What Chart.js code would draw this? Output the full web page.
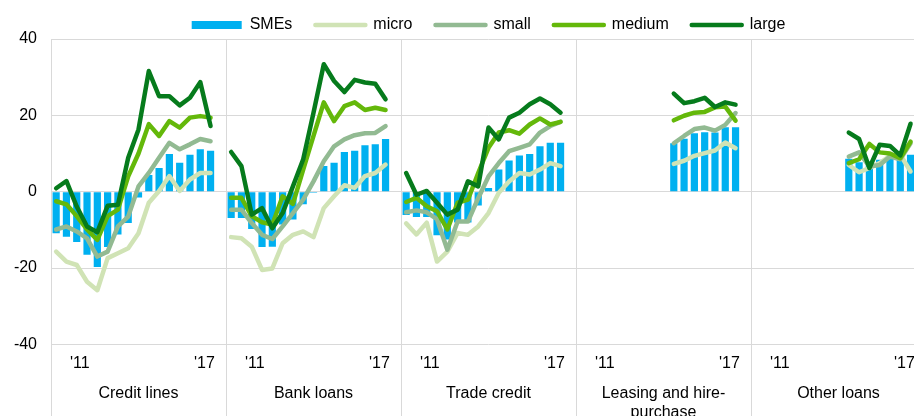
<!DOCTYPE html>
<html>
<head>
<meta charset="utf-8">
<script src="https://cdn.jsdelivr.net/npm/chart.js@4/dist/chart.umd.min.js"></script>
<style>
  html, body { margin: 0; padding: 0; background: #fff; overflow: hidden; }
  #wrap { width: 930px; height: 422px; position: relative; }
</style>
</head>
<body>
<div id="wrap"><canvas id="chart"></canvas></div>
<script>
// panel (loan type) labels and the two year labels shown in every panel
var panels = ['Credit lines', 'Bank loans', 'Trade credit', ['Leasing and hire-', 'purchase'], 'Other loans'];
var tickLabels = ["'11", "'17"];
var tickSlots = [2.8, 14.9];   // where the year labels sit inside a panel
var SLOTS = 17;                // 16 survey waves + one empty slot per panel

// net percentages, one row per panel (16 survey waves)
var smes = [
    [-10.9, -11.8, -13.2, -16.5, -19.7, -14.5, -11.2, -8.2, -1.5, 4.4, 6.2, 9.9, 7.6, 9.7, 11.1, 10.7],
    [-6.9, -6.9, -9.8, -14.5, -14.4, -8.6, -7.3, -3.3, -0.3, 6.7, 7.6, 10.4, 10.7, 12.2, 12.4, 13.8],
    [-6.1, -6.6, -6.6, -11.4, -12.5, -8.1, -8.1, -3.6, 1.0, 5.8, 8.2, 9.5, 9.9, 11.9, 12.8, 12.8],
    [null, null, null, null, null, null, null, null, null, 12.7, 13.9, 15.3, 15.6, 15.5, 16.9, 16.9],
    [null, null, null, null, null, null, null, null, null, 8.6, 7.7, 7.9, 8.4, 8.6, 9.3, 9.7]
];
var micro = [
    [-15.7, -18.3, -19.2, -23.6, -25.8, -17.4, -16.1, -14.8, -10.9, -2.9, 0.2, 4.1, 0.2, 3.2, 4.9, 4.9],
    [-11.9, -12.2, -14.4, -20.5, -20.1, -13.5, -11.3, -10.4, -11.9, -4.3, -1.2, 1.7, 1.0, 4.1, 4.9, 7.1],
    [-8.3, -11.2, -8.1, -18.3, -15.7, -10.8, -11.3, -9.1, -5.6, -0.3, 2.7, 4.9, 4.5, 5.8, 7.5, 6.7],
    [null, null, null, null, null, null, null, null, null, 7.3, 8.1, 9.4, 10.1, 10.8, 12.9, 11.4],
    [null, null, null, null, null, null, null, null, null, 7.0, 5.1, 6.2, 7.5, 9.4, 9.7, 5.3]
];
var small = [
    [-9.9, -9.1, -10.4, -12.2, -17.0, -15.7, -9.1, -6.5, 1.4, 4.9, 8.9, 12.8, 11.1, 12.4, 13.8, 13.2],
    [-4.7, -4.7, -8.2, -11.3, -12.4, -9.1, -5.6, -2.1, 2.7, 8.0, 11.9, 13.7, 14.8, 15.3, 15.4, 17.2],
    [-5.4, -4.9, -5.4, -7.2, -15.2, -7.8, -7.8, -1.7, 4.0, 7.5, 10.6, 11.5, 12.4, 15.5, 17.2, 18.3],
    [null, null, null, null, null, null, null, null, null, 12.7, 14.6, 16.4, 16.8, 16.0, 17.5, 20.6],
    [null, null, null, null, null, null, null, null, null, 9.2, 10.3, 6.6, 7.0, 9.2, 8.5, 12.7]
];
var medium = [
    [-2.5, -3.3, -6.4, -9.9, -12.6, -6.4, -4.7, 4.0, 10.0, 17.7, 14.6, 18.5, 16.8, 19.4, 19.8, 19.4],
    [-1.6, -1.6, -6.4, -8.0, -8.6, -1.2, -3.2, 5.8, 14.6, 23.4, 18.5, 22.4, 23.4, 21.4, 22.0, 21.4],
    [-2.7, -1.6, -3.8, -5.1, -9.9, -2.9, -2.1, 4.9, 11.5, 15.5, 16.1, 15.2, 17.6, 19.2, 17.6, 18.3],
    [null, null, null, null, null, null, null, null, null, 18.7, 19.9, 20.7, 20.9, 22.1, 22.3, 18.6],
    [null, null, null, null, null, null, null, null, null, 7.5, 8.5, 12.5, 10.3, 10.0, 8.8, 13.1]
];
var large = [
    [0.9, 2.8, -3.9, -9.1, -10.6, -3.7, -3.4, 8.9, 16.3, 31.6, 25.0, 25.0, 22.6, 24.6, 28.7, 17.2],
    [10.4, 6.7, -6.0, -4.3, -9.6, -5.6, 1.4, 8.5, 20.7, 33.4, 29.0, 26.1, 29.3, 28.6, 28.3, 24.2],
    [4.9, -0.8, 0.2, -2.9, -6.0, -4.7, 2.7, 1.4, 16.8, 13.7, 19.4, 20.7, 22.9, 24.4, 22.9, 20.7],
    [null, null, null, null, null, null, null, null, null, 25.7, 23.2, 23.7, 24.6, 22.2, 23.4, 22.8],
    [null, null, null, null, null, null, null, null, null, 15.5, 13.8, 6.2, 12.3, 12.0, 9.5, 17.8]
];

// turn panel rows into x/y points; a null point ends the line at each panel edge
function toPoints(rows, breakLines) {
    var pts = [];
    rows.forEach(function (row, p) {
        row.forEach(function (v, i) {
            pts.push({x: p * SLOTS + i + 0.5, y: v});
        });
        if (breakLines) {
            pts.push({x: (p + 1) * SLOTS, y: null});
        }
    });
    return pts;
}

function lineSet(label, rows, color, order) {
    return {
        type: 'line',
        label: label,
        data: toPoints(rows, true),
        borderColor: color,
        backgroundColor: color,
        borderWidth: 4.5,
        borderCapStyle: 'round',
        borderJoinStyle: 'round',
        pointRadius: 0,
        tension: 0,
        fill: false,
        order: order,
        xAxisID: 'x'
    };
}

var tickValues = [];
panels.forEach(function (name, p) {
    tickSlots.forEach(function (s) { tickValues.push(p * SLOTS + s); });
});

// thin grey lines between the panels, running down through the labels
var panelSeparators = {
    id: 'panelSeparators',
    beforeDatasetsDraw: function (chart) {
        var x = chart.scales.x;
        var ctx = chart.ctx;
        ctx.save();
        ctx.strokeStyle = '#d9d9d9';
        ctx.lineWidth = 1;
        for (var p = 0; p <= panels.length; p++) {
            var px = Math.round(x.getPixelForValue(p * SLOTS)) + 0.5;
            ctx.beginPath();
            ctx.moveTo(px, chart.chartArea.top);
            ctx.lineTo(px, chart.height);
            ctx.stroke();
        }
        ctx.restore();
    }
};

Chart.defaults.font.family = '"Liberation Sans", Arial, sans-serif';
Chart.defaults.font.size = 16;
Chart.defaults.color = '#000';

var ctx = document.getElementById('chart').getContext('2d');
var chart = new Chart(ctx, {
    type: 'bar',
    data: {
        datasets: [
            {
                type: 'bar',
                label: 'SMEs',
                data: toPoints(smes, false),
                backgroundColor: '#00b0f0',
                borderWidth: 0,
                barPercentage: 0.7,
                categoryPercentage: 1,
                order: 5,
                xAxisID: 'x'
            },
            lineSet('micro', micro, '#d0e3b5', 4),
            lineSet('small', small, '#92ba92', 3),
            lineSet('medium', medium, '#64b80a', 2),
            lineSet('large', large, '#067b1c', 1)
        ]
    },
    options: {
        responsive: true,
        maintainAspectRatio: false,
        animation: false,
        layout: {
            padding: {top: -6, right: 4, bottom: 0, left: 0}
        },
        scales: {
            x: {
                type: 'linear',
                position: 'bottom',
                weight: 0,
                min: 0,
                max: SLOTS * panels.length,
                offset: false,
                grid: {display: false, drawTicks: false, offset: false},
                border: {display: false},
                afterBuildTicks: function (scale) {
                    scale.ticks = tickValues.map(function (v) { return {value: v}; });
                },
                ticks: {
                    autoSkip: false,
                    maxRotation: 0,
                    padding: 10,
                    callback: function (value, index) {
                        return tickLabels[index % 2];
                    }
                }
            },
            groups: {
                type: 'category',
                axis: 'x',
                position: 'bottom',
                weight: 1,
                labels: panels,
                offset: true,
                grid: {display: false, drawTicks: false},
                border: {display: false},
                ticks: {autoSkip: false, maxRotation: 0, padding: 0}
            },
            y: {
                min: -40,
                max: 40,
                afterFit: function (scale) {
                    scale.width = 51;
                },
                ticks: {stepSize: 20, padding: 14},
                grid: {color: '#d9d9d9', drawTicks: false},
                border: {display: false}
            }
        },
        plugins: {
            legend: {
                position: 'top',
                fullSize: false,
                maxHeight: 45,
                labels: {
                    usePointStyle: true,
                    pointStyleWidth: 50,
                    boxHeight: 8,
                    padding: 23,
                    sort: function (a, b) {
                        return a.datasetIndex - b.datasetIndex;
                    },
                    generateLabels: function (chart) {
                        var items = Chart.defaults.plugins.legend.labels.generateLabels(chart);
                        items.forEach(function (item) {
                            if (item.datasetIndex === 0) {
                                item.pointStyle = 'rect';
                                item.lineWidth = 0;
                            } else {
                                item.pointStyle = 'line';
                                item.lineCap = 'round';
                            }
                        });
                        return items;
                    }
                }
            },
            tooltip: {enabled: false}
        }
    },
    plugins: [panelSeparators]
});
</script>
</body>
</html>
